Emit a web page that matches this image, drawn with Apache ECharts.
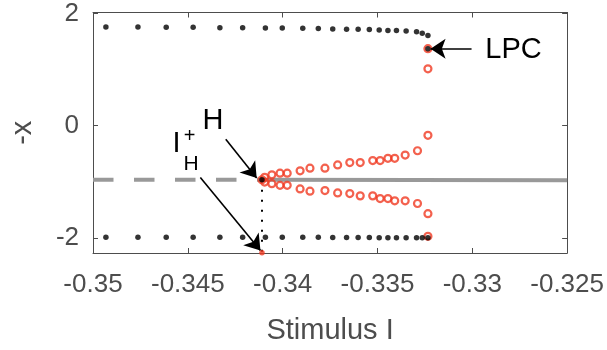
<!DOCTYPE html>
<html><head><meta charset="utf-8">
<script src="https://cdn.jsdelivr.net/npm/echarts@6/dist/echarts.min.js"></script>
<style>html,body{margin:0;padding:0;background:#fff}#c{width:607px;height:350px}</style>
</head><body><div id="c"></div><script>
// ---- data ----
const xTicks = [-0.35, -0.345, -0.34, -0.335, -0.33, -0.325];
const yTicks = [-2, 0, 2];
// stable periodic orbit (black dots): max and min of x
const blackX = [-0.34932,-0.34763,-0.34614,-0.34472,-0.34331,-0.34211,-0.34091,-0.34002,-0.33894,-0.33812,-0.33736,-0.33663,-0.33602,-0.33543,-0.33491,-0.33445,-0.33400,-0.33349,-0.33294,-0.33264,-0.33234];
const blackTopY = [1.76,1.76,1.755,1.755,1.75,1.75,1.745,1.745,1.74,1.735,1.725,1.72,1.72,1.715,1.71,1.70,1.70,1.69,1.675,1.65,1.61];
const blackBottomY = [-1.99,-1.99,-1.99,-1.99,-1.99,-1.99,-1.99,-1.99,-1.99,-1.99,-1.995,-1.995,-1.995,-1.995,-2.0,-2.0,-2.0,-2.0,-2.0,-2.0,-2.0];
// unstable periodic orbit (red circles)
const redX = [-0.34095,-0.34057,-0.34014,-0.33976,-0.33908,-0.33856,-0.33777,-0.33710,-0.33646,-0.33591,-0.33525,-0.33486,-0.33445,-0.33409,-0.33354,-0.33289,-0.33234];
const redUpperY = [-0.921,-0.876,-0.846,-0.846,-0.805,-0.757,-0.757,-0.699,-0.657,-0.657,-0.622,-0.622,-0.581,-0.581,-0.523,-0.446,-0.171];
const redLowerY = [-1.004,-1.034,-1.062,-1.062,-1.127,-1.168,-1.157,-1.198,-1.210,-1.251,-1.251,-1.299,-1.299,-1.339,-1.339,-1.387,-1.568];
// special points
const hopfX = -0.34109, equilibriumY = -0.963;
const lpcX = -0.33234;
const lpcRedY = [1.375, 1.016, -1.973];
const lpcBlackY = 1.375;
const ihPlusY = -2.265;
const xMin = -0.35, xMax = -0.325, yMin = -2.27, yMax = 2.02;
// annotation anchors (data units)
const labels = [
  {text:'LPC', x:-0.32783, y:1.357, size:29},
  {text:'H', x:-0.34367, y:0.079, size:29},
  {text:'I', x:-0.34560, y:-0.317, size:29},
  {text:'+', x:-0.34491, y:-0.185, size:20},
  {text:'H', x:-0.34483, y:-0.678, size:21}
];
const arrows = [
  [[-0.33004, 1.374], [-0.33220, 1.374]],
  [[-0.34300, -0.241], [-0.34137, -0.934]],
  [[-0.34434, -0.922], [-0.34117, -2.226]]
];

// ---- chart ----
const FONT = '"Liberation Sans", Arial, Helvetica, sans-serif';
const AX = '#4d4d4d';
const RED = '#F03A22';
const chart = echarts.init(document.getElementById('c'), null, {renderer:'canvas'});
const blackData = [];
blackX.forEach((x,i)=>{ blackData.push([x, blackTopY[i]]); blackData.push([x, blackBottomY[i]]); });
blackData.push([hopfX, equilibriumY]);
blackData.push([lpcX, lpcBlackY]);
const redData = [[hopfX, equilibriumY]];
redX.forEach((x,i)=>{ redData.push([x, redUpperY[i]]); redData.push([x, redLowerY[i]]); });
lpcRedY.forEach(y=>redData.push([lpcX, y]));

const fmt = v => String(Number(v.toFixed(3)));
function xAxisCfg(pos, show){
  return {type:'value', position:pos, min:xMin, max:xMax, interval:0.005,
    axisLine:{show:true, onZero:false, lineStyle:{color:AX, width:1}},
    axisTick:{show:true, inside:true, length:5, lineStyle:{color:AX}},
    axisLabel:{show:show, margin:19, fontSize:26, color:AX, fontFamily:FONT, formatter:fmt},
    splitLine:{show:false},
    name: show ? 'Stimulus I' : '', nameLocation:'middle', nameGap:63,
    nameTextStyle:{fontSize:29, color:AX, fontFamily:FONT}};
}
function yAxisCfg(pos, show){
  return {type:'value', position:pos, min:yMin, max:yMax,
    axisLine:{show:true, onZero:false, lineStyle:{color:AX, width:1}},
    axisTick:{show:true, inside:true, length:5, lineStyle:{color:AX}, customValues:yTicks},
    axisLabel:{show:show, margin:14, fontSize:26, color:AX, fontFamily:FONT, customValues:yTicks},
    splitLine:{show:false},
    name: show ? '-x' : '', nameLocation:'middle', nameGap:56, nameRotate:90,
    nameTextStyle:{fontSize:29, color:AX, fontFamily:FONT}};
}
const option = {
  animation:false,
  backgroundColor:'#fff',
  grid:{left:85, right:36, top:12.5, bottom:94},
  xAxis:[xAxisCfg('bottom', true), xAxisCfg('top', false)],
  yAxis:[yAxisCfg('left', true), yAxisCfg('right', false)],
  series:[
    {type:'line', data:[[xMin, equilibriumY],[hopfX, equilibriumY]], symbol:'none', silent:true, z:1,
      lineStyle:{color:'#999', width:4, type:[20.5,20.5]}},
    {type:'line', data:[[hopfX, equilibriumY],[xMax, equilibriumY-0.01]], symbol:'none', silent:true, z:1,
      lineStyle:{color:'#999', width:4}},
    {type:'line', data:[[hopfX, equilibriumY],[hopfX, yMin]], symbol:'none', silent:true, z:2,
      lineStyle:{color:'#000', width:2, type:[2,8]}},
    {type:'scatter', data:redData, symbol:'circle', symbolSize:7, silent:true, z:3,
      itemStyle:{color:'rgba(255,255,255,0)', borderColor:RED, borderWidth:2.2}},
    {type:'scatter', data:blackData, symbol:'circle', symbolSize:5.5, silent:true, z:4,
      itemStyle:{color:'#000'},
      markLine:{silent:true, symbol:['none','arrow'], symbolSize:15, label:{show:false},
        lineStyle:{color:'#000', width:1.6, type:'solid'},
        data: arrows.map(a=>[{coord:a[0]},{coord:a[1]}])}},
    {type:'scatter', data:[[hopfX, ihPlusY]], symbol:'circle', symbolSize:5.5, silent:true, z:5,
      itemStyle:{color:RED}}
  ]
};
chart.setOption(option);
const g = labels.map(l=>{
  const p = chart.convertToPixel({gridIndex:0}, [l.x, l.y]);
  return {type:'text', x:p[0], y:p[1], z:10, style:{text:l.text, fontSize:l.size, fontFamily:FONT, fill:'#000', align:'center', verticalAlign:'middle'}};
});
chart.setOption({graphic:g});
</script></body></html>
